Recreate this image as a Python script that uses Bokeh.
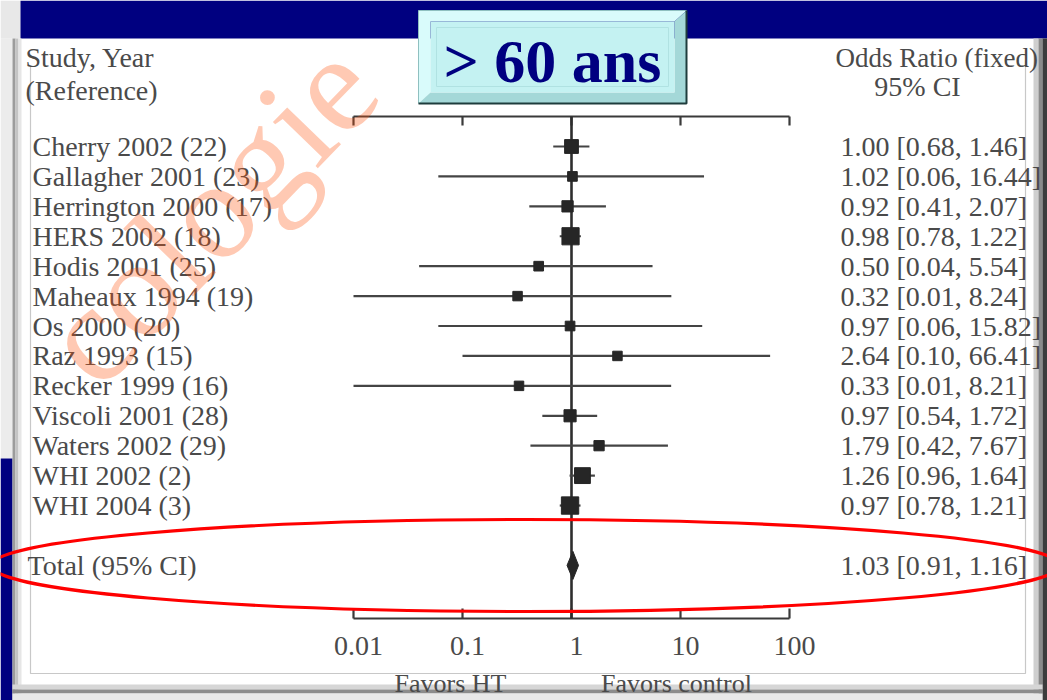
import math
from bokeh.plotting import figure
from bokeh.models import Range1d, LinearScale
from bokeh.core.properties import value
from bokeh.embed import file_html
from bokeh.resources import INLINE

# ---------------- data ----------------
studies = ["Cherry 2002 (22)", "Gallagher 2001 (23)", "Herrington 2000 (17)",
           "HERS 2002 (18)", "Hodis 2001 (25)", "Maheaux 1994 (19)", "Os 2000 (20)",
           "Raz 1993 (15)", "Recker 1999 (16)", "Viscoli 2001 (28)",
           "Waters 2002 (29)", "WHI 2002 (2)", "WHI 2004 (3)"]
odds_ratio = [1.00, 1.02, 0.92, 0.98, 0.50, 0.32, 0.97, 2.64, 0.33, 0.97, 1.79, 1.26, 0.97]
ci_low = [0.68, 0.06, 0.41, 0.78, 0.04, 0.01, 0.06, 0.10, 0.01, 0.54, 0.42, 0.96, 0.78]
ci_high = [1.46, 16.44, 2.07, 1.22, 5.54, 8.24, 15.82, 66.41, 8.21, 1.72, 7.67, 1.64, 1.21]
weights = [10.2, 0.2, 2.3, 29.8, 0.2, 0.1, 0.2, 0.1, 0.1, 4.4, 0.7, 20.8, 30.9]
total_label = "Total (95% CI)"
total_or = 1.03
total_low = 0.91
total_high = 1.16
axis_ticks = [0.01, 0.1, 1, 10, 100]
tick_labels = ["0.01", "0.1", "1", "10", "100"]
title_text = "> 60 ans"
watermark_text = "cologie"

# ---------------- layout ----------------
W, H = 1047, 700
PX_PER_DEC = 109.0
X_ONE = 571.0
ROW0, ROW_H = 146.0, 29.92
rows = list(range(len(studies)))
total_row = 14

x_lo = 10 ** (-X_ONE / PX_PER_DEC)
x_hi = 10 ** ((W - X_ONE) / PX_PER_DEC)
y_top = -ROW0 / ROW_H
y_bot = (H - ROW0) / ROW_H

p = figure(width=W, height=H, x_axis_type="log",
           x_range=Range1d(x_lo, x_hi), y_range=Range1d(y_bot, y_top),
           output_backend="svg", toolbar_location=None,
           x_axis_location=None, y_axis_location=None, min_border=0)
p.grid.visible = False
p.outline_line_color = None
p.background_fill_color = "white"
p.border_fill_color = "white"
p.extra_x_ranges = {"px": Range1d(0, W)}
p.extra_y_ranges = {"py": Range1d(H, 0)}
p.extra_x_scales = {"px": LinearScale()}
p.extra_y_scales = {"py": LinearScale()}

SC = dict(x_range_name="px", y_range_name="py")
FONT = value("Liberation Serif")
TXT = "#4a4a4a"
FS = "28px"

def box(l, r, t, b, color, alpha=1.0):
    p.quad(left=[l], right=[r], top=[t], bottom=[b], fill_color=color,
           fill_alpha=alpha, line_color=None, **SC)

# ---------------- slide background / frame ----------------
box(0, 12, 38, 458, "#ececec")
box(0, 20, 0, 38, "#e8e8e8")
box(20, W, 0, 38, "#000080")
box(0, 12, 458, H, "#000080")
box(12, 15, 38, H, "#9c9c9c")
box(15, 18, 38, H, "#c4c4c4")
box(18, 21, 38, H, "#e6e6e6")
box(1033, 1038, 38, H, "#cfcfcf")
box(1038, 1042, 38, H, "#8a8a8a")
box(1042, W, 38, H, "#3c3c3c")
box(12, 1042, 684, 689, "#d6d6d6")
box(12, 1042, 689, 693, "#8c8c8c")
box(12, 1042, 693, H, "#e8e8e8")
p.line(x=[30, 30, 1025, 1025], y=[65, 673, 673, 60], line_color="#c8c8c8",
       line_width=1.2, **SC)

# ---------------- axis brackets (log x) ----------------
AX = "#3a3a3a"
for ya, yt in ((116, 125), (618, 608)):
    p.segment(x0=[axis_ticks[0]], x1=[axis_ticks[-1]], y0=[ya], y1=[ya],
              line_color=AX, line_width=2.2, y_range_name="py")
    p.segment(x0=axis_ticks, x1=axis_ticks, y0=[ya] * len(axis_ticks),
              y1=[yt] * len(axis_ticks), line_color=AX, line_width=2.2,
              y_range_name="py")
p.text(x=axis_ticks, y=[645] * len(axis_ticks), text=tick_labels, x_offset=5,
       text_align="center", text_baseline="middle", text_font=FONT,
       text_font_size=FS, text_color=TXT, y_range_name="py")
p.segment(x0=[1], x1=[1], y0=[116], y1=[618], line_color="#2e2e2e",
          line_width=2.6, y_range_name="py")

# ---------------- study rows ----------------
sizes = [9 + 1.5 * math.sqrt(w) for w in weights]
p.segment(x0=ci_low, x1=ci_high, y0=rows, y1=rows, line_color="#444444",
          line_width=2.2)
p.scatter(x=odds_ratio, y=rows, size=sizes, marker="square",
          fill_color="#262626", line_color="#262626")
p.patch(x=[total_low, total_or, total_high, total_or],
        y=[total_row, total_row - 0.47, total_row, total_row + 0.47],
        fill_color="#262626", line_color="#262626")

p.text(x=[32] * len(studies), y=rows, text=studies, text_baseline="middle",
       text_font=FONT, text_font_size=FS, text_color=TXT, x_range_name="px")
p.text(x=[27], y=[total_row], text=[total_label], text_baseline="middle",
       text_font=FONT, text_font_size=FS, text_color=TXT, x_range_name="px")
ci_text = [f"{o:.2f} [{l:.2f}, {h:.2f}]" for o, l, h in zip(odds_ratio, ci_low, ci_high)]
p.text(x=[840] * len(studies), y=rows, text=ci_text, text_baseline="middle",
       text_font=FONT, text_font_size=FS, text_color=TXT, x_range_name="px")
p.text(x=[840], y=[total_row], text=[f"{total_or:.2f} [{total_low:.2f}, {total_high:.2f}]"],
       text_baseline="middle", text_font=FONT, text_font_size=FS,
       text_color=TXT, x_range_name="px")

# headers
p.text(x=[25, 25], y=[57, 90], text=["Study, Year", "(Reference)"],
       text_baseline="middle", text_font=FONT, text_font_size=FS,
       text_color=TXT, **SC)
p.text(x=[835], y=[57], text=["Odds Ratio (fixed)"], text_baseline="middle",
       text_font=FONT, text_font_size="27px", text_color=TXT, **SC)
p.text(x=[917], y=[86], text=["95% CI"], text_align="center",
       text_baseline="middle", text_font=FONT, text_font_size=FS,
       text_color=TXT, **SC)
p.text(x=[450, 676], y=[683, 683], text=["Favors HT", "Favors control"],
       text_align="center", text_baseline="middle", text_font=FONT,
       text_font_size="26px", text_color=TXT, **SC)

# ---------------- watermark ----------------
p.text(x=[208], y=[212], text=[watermark_text], angle=0.80, text_align="center",
       text_baseline="middle", text_font=FONT, text_font_size="140px",
       text_color="#ff500a", text_alpha=0.31, **SC)

# ---------------- red ellipse ----------------
p.ellipse(x=[525], y=[565], width=1068, height=92, fill_color=None,
          line_color="#ff0000", line_width=3.2, **SC)

# ---------------- title box ----------------
p.patch(x=[418, 686, 674, 430, 430, 418], y=[10, 10, 21, 21, 92, 103],
        fill_color="#d9fbfb", line_color=None, **SC)
p.patch(x=[686, 686, 418, 430, 674, 674], y=[10, 103, 103, 92, 92, 21],
        fill_color="#a4d8d8", line_color=None, **SC)
box(430, 674, 21, 92, "#c4f2f2")
p.line(x=[436, 668, 668, 436, 436], y=[27, 27, 86, 86, 27], line_color="#b0e2e2",
       line_width=1, **SC)
p.line(x=[418, 418, 686], y=[103, 10, 10], line_color="#8fc0c0", line_width=1, **SC)
p.line(x=[686, 686, 418], y=[10, 103, 103], line_color="#1e3c3c", line_width=2, **SC)
p.text(x=[552], y=[60], text=[title_text], text_align="center",
       text_baseline="middle", text_font=FONT, text_font_style="bold",
       text_font_size="62px", text_color="#000080", **SC)

open("out.html", "w").write(file_html(p, INLINE))
